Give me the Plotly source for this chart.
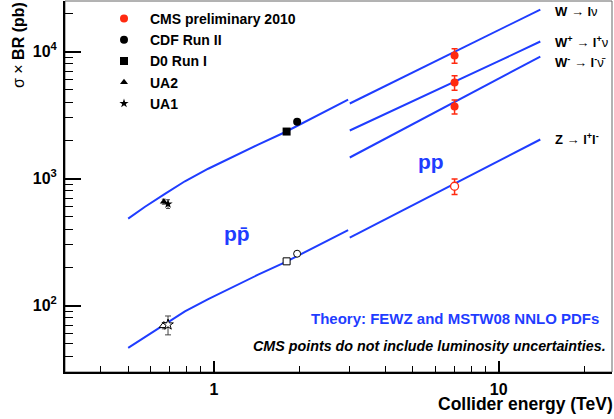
import plotly.graph_objects as go

# ---------------- data ----------------
# theory curves, p-pbar (TeV, pb)
E_ppbar = [0.5, 0.573, 0.673, 0.791, 0.955, 1.154, 1.43, 1.775, 2.2, 2.96]
W_ppbar = [484, 600, 758, 952, 1195, 1472, 1852, 2315, 2968, 4188]
Z_ppbar = [46.4, 56.5, 71.5, 90, 112.5, 139, 175, 219, 280, 392]

# theory curves, p-p
E_pp = [3.0, 5.0, 7.0, 10.0, 14.0]
W_pp = [3900, 6840, 10000, 14700, 21400]
Wp_pp = [2390, 4060, 5810, 8400, 12000]
Wm_pp = [1465, 2680, 3980, 6130, 9130]
Z_pp = [343, 617, 913, 1370, 2030]

# measurements
cms_E = [7.0, 7.0, 7.0]
cms_W = [9300, 5700, 3690]          # W, W+, W-
cms_W_err = [1200, 750, 470]
cms_Z_E = [7.0]
cms_Z = [870]
cms_Z_err = [120]

cdf_E = [1.96]
cdf_W = [2795]
cdf_Z = [256]

d0_E = [1.8]
d0_W = [2345]
d0_Z = [223]

ua2_E = [0.667]
ua2_W = [658]
ua2_W_err = [30]
ua2_Z = [69.6]
ua2_Z_err = [4]

ua1_E = [0.69]
ua1_W = [631]
ua1_W_err = [50]
ua1_Z = [70.8]
ua1_Z_err = [12]

x_major = [1, 10]
x_major_text = ["1", "10"]
x_minor = [0.4, 0.5, 0.6, 0.7, 0.8, 0.9, 2, 3, 4, 5, 6, 7, 8, 9, 20]
y_major = [100, 1000, 10000]
y_major_text = ["10<sup>2</sup>", "10<sup>3</sup>", "10<sup>4</sup>"]
y_minor = [40, 50, 60, 70, 80, 90, 200, 300, 400, 500, 600, 700, 800, 900,
           2000, 3000, 4000, 5000, 6000, 7000, 8000, 9000, 20000]

# ---------------- style ----------------
BLUE = "#1f3dff"
RED = "#ff2a10"
FONT = "Liberation Sans"

# plot area in pixels
W_FIG, H_FIG = 614, 419
L, R, T, B = 65, 2, 1, 47
PW = W_FIG - L - R
PH = H_FIG - T - B


def px(xp):
    return (xp - L) / PW


def py(yp):
    return (H_FIG - B - yp) / PH


fig = go.Figure()

# theory lines
for xs, ys in [(E_ppbar, W_ppbar), (E_ppbar, Z_ppbar), (E_pp, W_pp),
               (E_pp, Wp_pp), (E_pp, Wm_pp), (E_pp, Z_pp)]:
    fig.add_trace(go.Scatter(x=xs, y=ys, mode="lines",
                             line=dict(color=BLUE, width=2),
                             showlegend=False, hoverinfo="skip"))

# measurements, W (filled) -> legend entries
fig.add_trace(go.Scatter(
    x=cms_E, y=cms_W, mode="markers", name="CMS preliminary 2010",
    marker=dict(symbol="circle", size=8, color=RED),
    error_y=dict(type="data", array=cms_W_err, color=RED, thickness=1.5, width=3)))
fig.add_trace(go.Scatter(
    x=cdf_E, y=cdf_W, mode="markers", name="CDF Run II",
    marker=dict(symbol="circle", size=8, color="black")))
fig.add_trace(go.Scatter(
    x=d0_E, y=d0_W, mode="markers", name="D0 Run I",
    marker=dict(symbol="square", size=8, color="black")))
fig.add_trace(go.Scatter(
    x=ua2_E, y=ua2_W, mode="markers", name="UA2",
    marker=dict(symbol="triangle-up", size=7, color="black"),
    error_y=dict(type="data", array=ua2_W_err, color="#444", thickness=1, width=2)))
fig.add_trace(go.Scatter(
    x=ua1_E, y=ua1_W, mode="markers", name="UA1",
    marker=dict(symbol="star", size=7, color="black"),
    error_y=dict(type="data", array=ua1_W_err, color="#444", thickness=1, width=2)))

# measurements, Z (open)
fig.add_trace(go.Scatter(
    x=cms_Z_E, y=cms_Z, mode="markers", showlegend=False,
    marker=dict(symbol="circle", size=8, color="white", line=dict(color=RED, width=1.3)),
    error_y=dict(type="data", array=cms_Z_err, color=RED, thickness=1.5, width=3)))
fig.add_trace(go.Scatter(
    x=cdf_E, y=cdf_Z, mode="markers", showlegend=False,
    marker=dict(symbol="circle", size=7, color="white", line=dict(color="black", width=1))))
fig.add_trace(go.Scatter(
    x=d0_E, y=d0_Z, mode="markers", showlegend=False,
    marker=dict(symbol="square", size=7, color="white", line=dict(color="black", width=1))))
fig.add_trace(go.Scatter(
    x=ua2_E, y=ua2_Z, mode="markers", showlegend=False,
    marker=dict(symbol="triangle-up", size=8, color="white", line=dict(color="black", width=1)),
    error_y=dict(type="data", array=ua2_Z_err, color="#444", thickness=1, width=2)))
fig.add_trace(go.Scatter(
    x=ua1_E, y=ua1_Z, mode="markers", showlegend=False,
    marker=dict(symbol="star", size=8, color="white", line=dict(color="black", width=1)),
    error_y=dict(type="data", array=ua1_Z_err, color="#444", thickness=1, width=3)))

bold = dict(family=FONT, weight="bold", color="black")

labels = [
    ("W → l<span style='font-weight:normal'>ν</span>", 12),
    ("W<sup>+</sup> → l<sup>+</sup><span style='font-weight:normal'>ν</span>", 42),
    ("W<sup>-</sup> → l<sup>-</sup><span style='font-weight:normal'>ν̄</span>", 62),
    ("Z → l<sup>+</sup>l<sup>-</sup>", 139),
]
anns = []
for txt, yy in labels:
    anns.append(dict(text=txt, x=px(553), y=py(yy), xref="paper", yref="paper",
                     xanchor="left", yanchor="middle", showarrow=False,
                     font=dict(size=13, **bold)))

anns += [
    dict(text="pp̄", x=px(222), y=py(234), xref="paper", yref="paper",
         xanchor="left", yanchor="middle", showarrow=False,
         font=dict(family=FONT, size=21, weight="bold", color=BLUE)),
    dict(text="pp", x=px(416), y=py(161), xref="paper", yref="paper",
         xanchor="left", yanchor="middle", showarrow=False,
         font=dict(family=FONT, size=21, weight="bold", color=BLUE)),
    dict(text="Theory: FEWZ and MSTW08 NNLO PDFs", x=px(601), y=py(318),
         xref="paper", yref="paper", xanchor="right", yanchor="middle",
         showarrow=False, font=dict(family=FONT, size=15, weight="bold", color=BLUE)),
    dict(text="<i>CMS points do not include luminosity uncertainties.</i>", x=px(608), y=py(346),
         xref="paper", yref="paper", xanchor="right", yanchor="middle",
         showarrow=False, font=dict(size=14.3, **bold)),
    dict(text="Collider energy (TeV)", x=px(615), y=py(404),
         xref="paper", yref="paper", xanchor="right", yanchor="middle",
         showarrow=False, font=dict(size=17.5, **bold)),
    dict(text="<span style='font-weight:normal'>σ × </span>BR (pb)", x=px(18), y=py(0),
         xref="paper", yref="paper", xanchor="center", yanchor="top", textangle=-90,
         showarrow=False, font=dict(size=16, **bold)),
]

fig.update_layout(
    width=W_FIG, height=H_FIG,
    margin=dict(l=L, r=R, t=T, b=B),
    paper_bgcolor="white", plot_bgcolor="white",
    font=dict(family=FONT, color="black"),
    annotations=anns,
    showlegend=True,
    legend=dict(x=px(98), y=py(3), xanchor="left", yanchor="top",
                bgcolor="rgba(0,0,0,0)", font=dict(size=14, **bold),
                itemwidth=42),
    shapes=[dict(type="rect", xref="paper", yref="paper", x0=0, x1=1, y0=0, y1=1,
                 line=dict(color="#666", width=1), layer="below")],
)

fig.update_xaxes(
    type="log", range=[-0.5229, 1.3979],
    tickvals=x_major, ticktext=x_major_text, ticks="inside", ticklen=11,
    tickwidth=1.5, tickcolor="black",
    tickfont=dict(size=16, **bold), ticklabelstandoff=2,
    minor=dict(tickvals=x_minor, ticks="inside", ticklen=6, tickwidth=1, tickcolor="black",
               showgrid=False),
    showline=True, linecolor="black", linewidth=2, showgrid=False, zeroline=False,
)
fig.update_yaxes(
    type="log", range=[1.4771, 4.3979],
    tickvals=y_major, ticktext=y_major_text, ticks="inside", ticklen=16,
    tickwidth=1.5, tickcolor="black",
    tickfont=dict(size=16, **bold), ticklabelstandoff=3,
    minor=dict(tickvals=y_minor, ticks="inside", ticklen=8, tickwidth=1, tickcolor="black",
               showgrid=False),
    showline=True, linecolor="black", linewidth=2, showgrid=False, zeroline=False,
)

fig.write_html("out.html", config={"displayModeBar": False},
               post_script="document.body.style.margin='0px';document.body.style.overflow='hidden';")
